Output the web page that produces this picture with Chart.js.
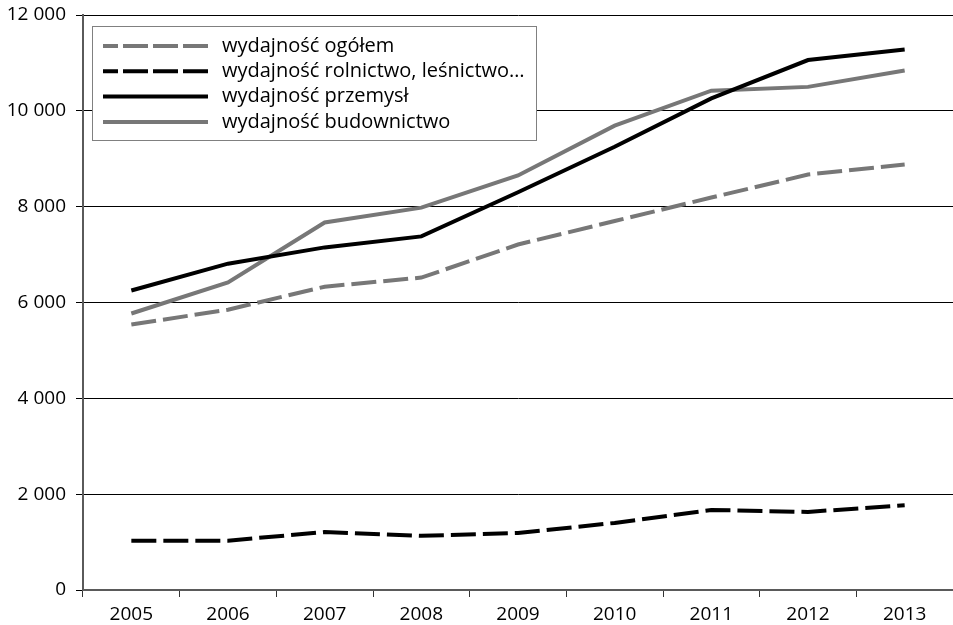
<!DOCTYPE html>
<html><head><meta charset="utf-8">
<script src="https://cdn.jsdelivr.net/npm/chart.js@4"></script>
<style>html,body{margin:0;padding:0;background:#fff}#wrap{width:953px;height:625px}</style>
</head><body><div id="wrap"><canvas id="c" width="953" height="625"></canvas></div>
<script>
const years = ['2005','2006','2007','2008','2009','2010','2011','2012','2013'];
const seriesNames = ['wydajność ogółem','wydajność rolnictwo, leśnictwo…','wydajność przemysł','wydajność budownictwo'];
const ogolem = [5540, 5850, 6330, 6520, 7210, 7700, 8190, 8670, 8880];
const rolnictwo = [1030, 1030, 1210, 1130, 1190, 1400, 1670, 1630, 1770];
const przemysl = [6250, 6810, 7150, 7380, 8300, 9250, 10260, 11060, 11280];
const budownictwo = [5770, 6420, 7670, 7980, 8650, 9690, 10420, 10500, 10840];
const yMin = 0, yMax = 12000, yStep = 2000;

const FONT = '"Open Sans", "Noto Sans", sans-serif';
const GRAY = '#777777';

function fmt(v){ return String(v).replace(/\B(?=(\d{3})+(?!\d))/g, '\u00a0'); }

const boxLegend = {
  id: 'boxLegend',
  afterDatasetsDraw(chart){
    const ctx = chart.ctx, a = chart.chartArea;
    const x0 = Math.round(a.left + 9), y0 = Math.round(a.top + 11), w = 444, h = 114;
    ctx.save();
    ctx.fillStyle = '#fff';
    ctx.fillRect(x0, y0, w, h);
    ctx.strokeStyle = '#808080'; ctx.lineWidth = 1;
    ctx.strokeRect(x0 + 0.5, y0 + 0.5, w, h);
    chart.data.datasets.forEach((ds, i) => {
      const y = y0 + 20 + i * 25.3;
      ctx.beginPath();
      ctx.setLineDash(ds.borderDash && ds.borderDash.length ? [25, 5] : []);
      ctx.lineDashOffset = 10;
      ctx.lineWidth = ds.borderWidth;
      ctx.strokeStyle = ds.borderColor;
      ctx.lineCap = 'butt';
      ctx.moveTo(x0 + 11, y); ctx.lineTo(x0 + 116, y);
      ctx.stroke();
      ctx.setLineDash([]);
      ctx.fillStyle = '#000';
      ctx.font = '20px ' + FONT;
      ctx.textBaseline = 'middle';
      ctx.textAlign = 'left';
      ctx.fillText(ds.label, x0 + 130, y);
    });
    ctx.restore();
  }
};

const mk = (label, data, color, dash) => ({
  label, data, borderColor: color, backgroundColor: color,
  borderWidth: 4, borderDash: dash, borderCapStyle: 'butt',
  pointRadius: 0, pointHoverRadius: 0, tension: 0, fill: false
});

new Chart(document.getElementById('c'), {
  type: 'line',
  data: {
    labels: years,
    datasets: [
      mk(seriesNames[0], ogolem, GRAY, [25, 7]),
      mk(seriesNames[1], rolnictwo, '#000', [25, 7]),
      mk(seriesNames[2], przemysl, '#000', []),
      mk(seriesNames[3], budownictwo, GRAY, [])
    ]
  },
  options: {
    responsive: false, animation: false, devicePixelRatio: 1,
    layout: { padding: { top: 15, right: 0, bottom: 0, left: 0 } },
    plugins: { legend: { display: false }, tooltip: { enabled: false } },
    scales: {
      x: {
        offset: true,
        grid: { offset: true, drawOnChartArea: false, drawTicks: true, tickLength: 7, color: '#333', lineWidth: 1 },
        border: { color: '#5a5a5a', width: 2 },
        ticks: { color: '#000', font: { family: FONT, size: 19 }, padding: 6, maxRotation: 0 },
        afterFit(s){ s.height = 35; s.paddingLeft = 0; s.paddingRight = 0; }
      },
      y: {
        min: yMin, max: yMax,
        grid: { color: '#000', lineWidth: 1, tickLength: 7, drawTicks: true },
        border: { color: '#5a5a5a', width: 2 },
        ticks: { stepSize: yStep, color: '#000', font: { family: FONT, size: 19 }, padding: 10, callback: v => fmt(v) },
        afterFit(s){ s.width = 83; s.paddingTop = 0; s.paddingBottom = 0; }
      }
    }
  },
  plugins: [boxLegend]
});
</script>
</body></html>
